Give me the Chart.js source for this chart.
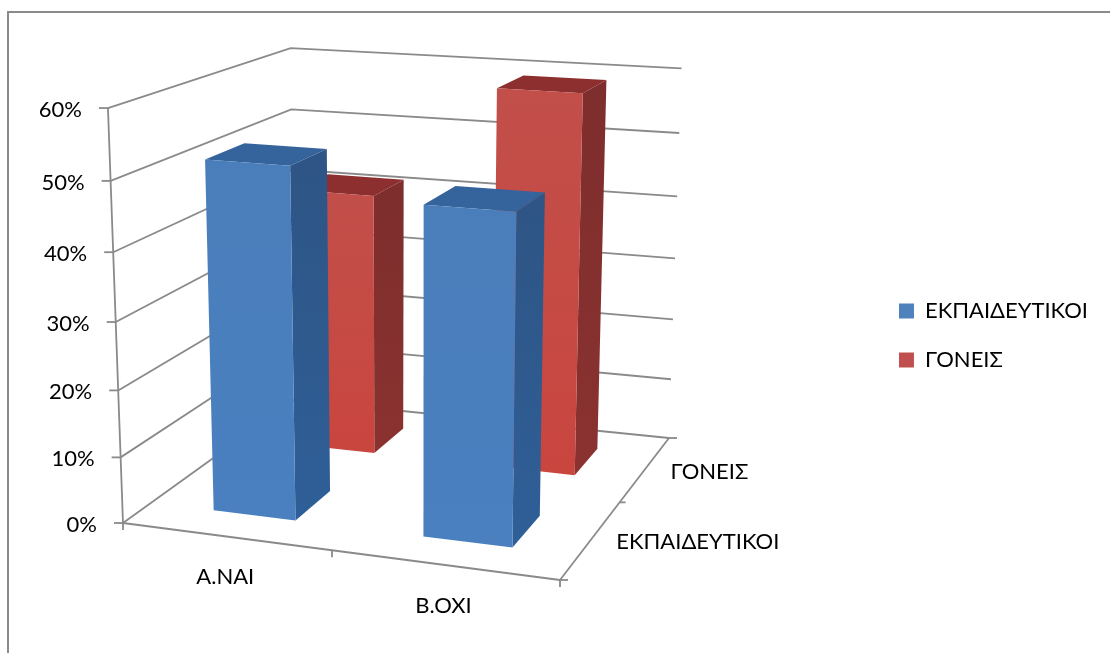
<!DOCTYPE html>
<html>
<head>
<meta charset="utf-8">
<style>
  html, body { margin: 0; padding: 0; background: #fff; }
  canvas { display: block; }
</style>
<script src="https://cdn.jsdelivr.net/npm/chart.js@4"></script>
</head>
<body>
<canvas id="myChart" width="1110" height="653"></canvas>
<script>
const categories = ['Α.ΝΑΙ', 'Β.ΟΧΙ'];
const seriesNames = ['ΕΚΠΑΙΔΕΥΤΙΚΟΙ', 'ΓΟΝΕΙΣ'];
const teachers = [52, 48];
const parents = [41.5, 59];
const yMax = 60;
const yStep = 10;

const fontFamily = 'Lato, "Open Sans", sans-serif';
const gridColor = '#8a8a8a';
const legendColors = ['#4F81BD', '#C0504D'];
const faces = [
  {front: '#4A7EBB', frontLow: '#4A80C0', side: '#2E5585', sideLow: '#2F5F98', top: '#35639B'},
  {front: '#C24F4A', frontLow: '#C9463F', side: '#7E2E2D', sideLow: '#8A3230', top: '#8C2F2E'}
];

// camera: floor corners, the rest from the left axis
const FL = [123, 523], FR = [560, 580], BR = [669, 438], BL = [294, 400];
const liftX = -21.6, liftY = -421.5, liftW = -0.0607;
const rightLiftX = -6, rightLiftY = 8.5;
const depthCenters = [0.25, 0.755];
const barHalfU = 0.1, barHalfV = 0.105, barNudgeU = 0.006;

const dx1 = FR[0] - BR[0], dx2 = BL[0] - BR[0], sx = FL[0] - FR[0] + BR[0] - BL[0];
const dy1 = FR[1] - BR[1], dy2 = BL[1] - BR[1], sy = FL[1] - FR[1] + BR[1] - BL[1];
const det = dx1 * dy2 - dx2 * dy1;
const wu = (sx * dy2 - dx2 * sy) / det;
const wv = (dx1 * sy - sx * dy1) / det;
const xu = FR[0] - FL[0] + wu * FR[0], xv = BL[0] - FL[0] + wv * BL[0];
const yu = FR[1] - FL[1] + wu * FR[1], yv = BL[1] - FL[1] + wv * BL[1];

function project(u, v, t) {
  const w = 1 + wu * u + wv * v + liftW * t;
  return [
    (FL[0] + xu * u + xv * v + (liftX + rightLiftX * u) * t) / w,
    (FL[1] + yu * u + yv * v + (liftY + rightLiftY * u) * t) / w
  ];
}

function fillFace(ctx, pts, color, colorLow) {
  let fill = color;
  if (colorLow) {
    fill = ctx.createLinearGradient(0, pts[3][1], 0, pts[0][1]);
    fill.addColorStop(0, color);
    fill.addColorStop(1, colorLow);
  }
  ctx.fillStyle = fill;
  ctx.beginPath();
  pts.forEach((p, i) => i ? ctx.lineTo(p[0], p[1]) : ctx.moveTo(p[0], p[1]));
  ctx.closePath();
  ctx.fill();
}

function drawLine(ctx, a, b) {
  ctx.beginPath();
  ctx.moveTo(a[0], a[1]);
  ctx.lineTo(b[0], b[1]);
  ctx.stroke();
}

// y axis follows the perspective of the front left edge
class PerspectiveScale extends Chart.LinearScale {
  static id = 'perspective';
  static defaults = Chart.LinearScale.defaults;
  decimalOf(value) {
    return (value - this.min) / (this.max - this.min);
  }
  getPixelForValue(value) {
    return project(0, 0, this.decimalOf(value))[1];
  }
  _computeLabelArea() {
    return undefined;
  }
  _computeLabelItems(area) {
    const items = super._computeLabelItems(area);
    items.forEach((item, i) => {
      const p = project(0, 0, this.decimalOf(this.ticks[i].value));
      item.options.translation = [p[0] - 26, p[1] + 2];
      item.options.textAlign = 'right';
    });
    return items;
  }
}

class Bar3DController extends Chart.BarController {
  static id = 'bar3d';
  static defaults = Chart.BarController.defaults;
  static overrides = Chart.BarController.overrides;
  draw() {
    const ctx = this.chart.ctx;
    const meta = this.getMeta();
    const xs = meta.xScale, ys = meta.yScale;
    const vc = depthCenters[this.index];
    const colors = faces[this.index];
    const v0 = vc - barHalfV, v1 = vc + barHalfV;
    this.getDataset().data.forEach((val, i) => {
      const uc = (xs.getPixelForValue(i) - xs.left) / xs.width + barNudgeU;
      const u0 = uc - barHalfU, u1 = uc + barHalfU;
      const t = ys.decimalOf(val);
      fillFace(ctx, [project(u0, v0, t), project(u1, v0, t), project(u1, v1, t), project(u0, v1, t)], colors.top);
      fillFace(ctx, [project(u1, v0, 0), project(u1, v1, 0), project(u1, v1, t), project(u1, v0, t)], colors.side, colors.sideLow);
      fillFace(ctx, [project(u0, v0, 0), project(u1, v0, 0), project(u1, v0, t), project(u0, v0, t)], colors.front, colors.frontLow);
    });
  }
}

Chart.register(PerspectiveScale, Bar3DController);

const wallsPlugin = {
  id: 'walls',
  beforeDatasetsDraw(chart) {
    const ctx = chart.ctx;
    const ys = chart.scales.y;
    ctx.save();
    // outer frame of the picture
    ctx.strokeStyle = '#8a8a8a';
    ctx.lineWidth = 2;
    ctx.beginPath();
    ctx.moveTo(8, 653);
    ctx.lineTo(8, 12);
    ctx.lineTo(1110, 12);
    ctx.stroke();

    ctx.strokeStyle = gridColor;
    ctx.lineWidth = 1.8;
    ys.ticks.forEach(tick => {
      const t = ys.decimalOf(tick.value);
      const a = project(0, 0, t), b = project(0, 1, t), c = project(1, 1, t);
      ctx.beginPath();
      ctx.moveTo(a[0], a[1]);
      ctx.lineTo(b[0], b[1]);
      ctx.lineTo(c[0], c[1]);
      ctx.stroke();
      drawLine(ctx, [a[0] - 9, a[1]], a);
    });
    drawLine(ctx, project(0, 0, 0), project(0, 0, 1));
    const f0 = project(0, 0, 0), f1 = project(1, 0, 0), b1 = project(1, 1, 0);
    drawLine(ctx, f0, f1);
    drawLine(ctx, f1, b1);
    drawLine(ctx, f0, [f0[0], f0[1] + 7]);
    drawLine(ctx, f1, [f1[0], f1[1] + 7]);
    const mid = project(0.5, 0, 0);
    drawLine(ctx, mid, [mid[0], mid[1] + 7]);
    drawLine(ctx, f1, [f1[0] + 8, f1[1]]);
    drawLine(ctx, b1, [b1[0] + 8, b1[1]]);
    const side = project(1, 0.5, 0);
    drawLine(ctx, side, [side[0] + 6, side[1]]);
    ctx.restore();
  },
  afterDatasetsDraw(chart) {
    const ctx = chart.ctx;
    const xs = chart.scales.x;
    ctx.save();
    ctx.fillStyle = '#000';
    ctx.font = '22px ' + fontFamily;
    ctx.textBaseline = 'middle';
    ctx.textAlign = 'center';
    categories.forEach((label, i) => {
      const u = (xs.getPixelForValue(i) - xs.left) / xs.width;
      const p = project(u, 0, 0);
      ctx.fillText(label, p[0], p[1] + 41);
    });
    ctx.textAlign = 'left';
    seriesNames.forEach((label, i) => {
      const p = project(1, (i + 0.5) / seriesNames.length, 0);
      ctx.fillText(label, p[0] + 25, p[1] + 3);
    });
    ctx.restore();
  }
};

new Chart(document.getElementById('myChart').getContext('2d'), {
  type: 'bar3d',
  data: {
    labels: categories,
    datasets: [
      {label: seriesNames[0], data: teachers, backgroundColor: legendColors[0], borderWidth: 0},
      {label: seriesNames[1], data: parents, backgroundColor: legendColors[1], borderWidth: 0}
    ]
  },
  options: {
    responsive: false,
    animation: false,
    layout: {padding: {top: 18, right: 12}},
    plugins: {
      tooltip: {enabled: false},
      legend: {
        position: 'right',
        labels: {
          boxWidth: 15,
          boxHeight: 15,
          padding: 27,
          color: '#000',
          font: {family: fontFamily, size: 22}
        }
      }
    },
    scales: {
      x: {display: false},
      y: {
        type: 'perspective',
        min: 0,
        max: yMax,
        border: {display: false},
        grid: {display: false, drawTicks: false},
        ticks: {
          stepSize: yStep,
          color: '#000',
          font: {family: fontFamily, size: 22},
          callback: value => value + '%'
        }
      }
    }
  },
  plugins: [wallsPlugin]
});
</script>
</body>
</html>
